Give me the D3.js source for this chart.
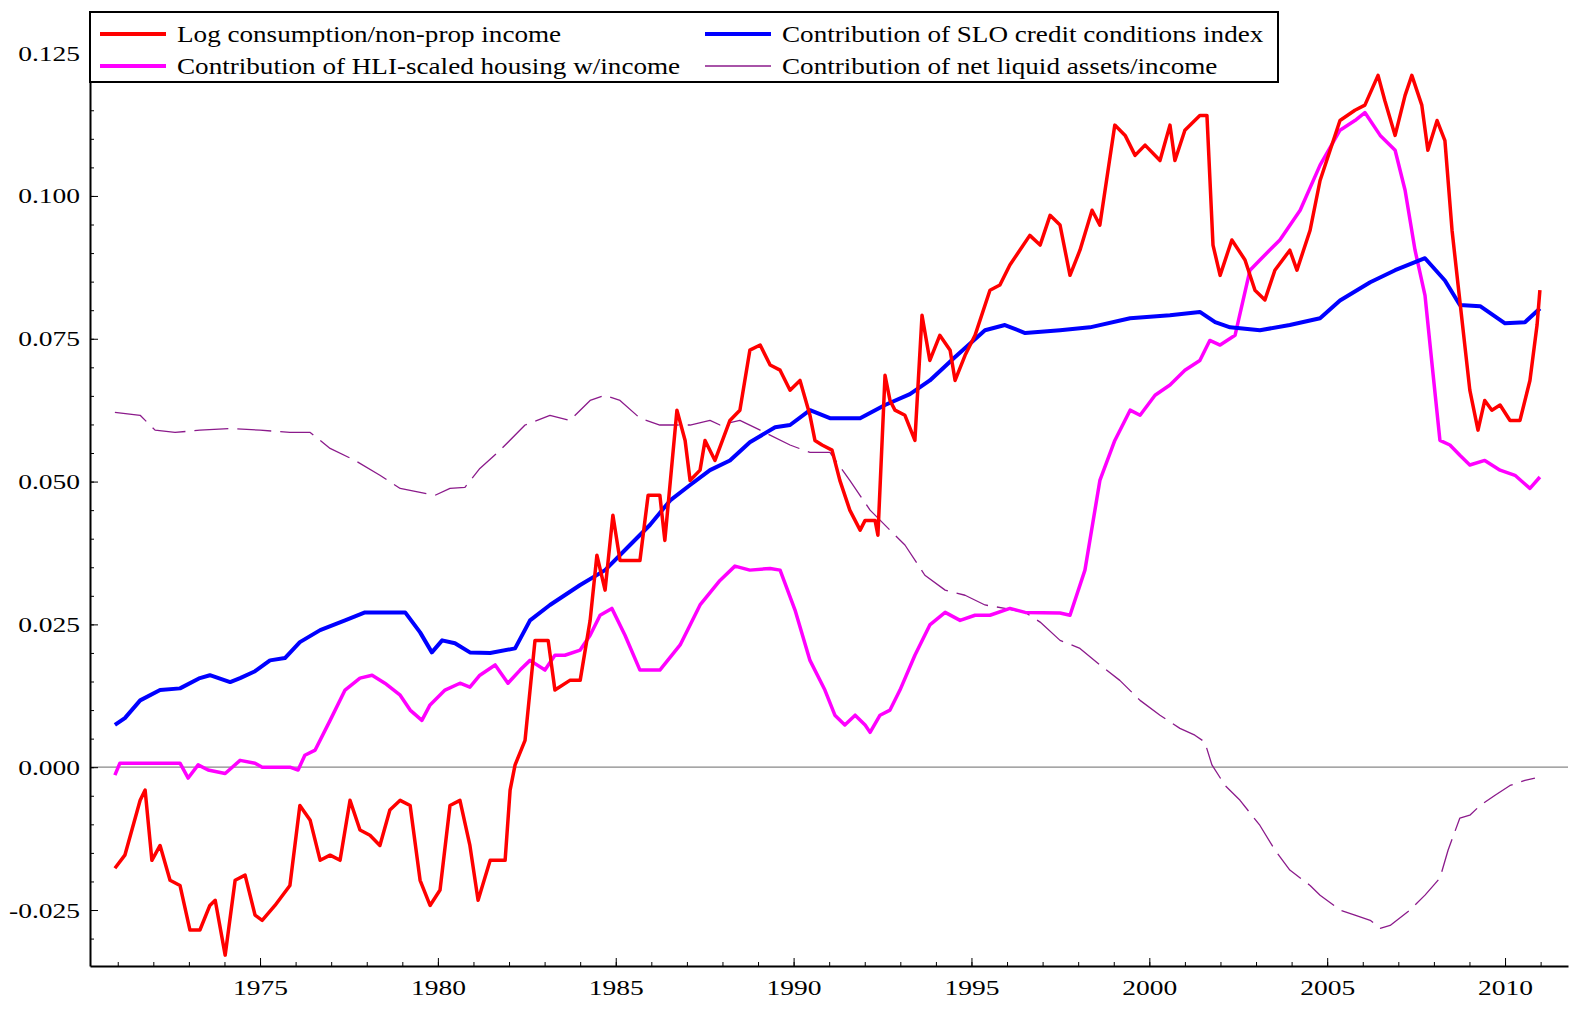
<!DOCTYPE html>
<html><head><meta charset="utf-8">
<script src="https://cdn.jsdelivr.net/npm/d3@7"></script>
<style>body{margin:0;background:#fff}text{font-family:"Liberation Serif",serif}</style>
</head><body><svg id="c" width="1586" height="1012"></svg>
<script>
const consumption = [[1970.92,-0.0177],[1971.20,-0.0154],[1971.63,-0.0058],[1971.77,-0.0040],[1971.96,-0.0163],[1972.19,-0.0137],[1972.47,-0.0198],[1972.75,-0.0207],[1973.03,-0.0285],[1973.31,-0.0285],[1973.59,-0.0242],[1973.74,-0.0233],[1974.02,-0.0329],[1974.30,-0.0198],[1974.58,-0.0189],[1974.86,-0.0259],[1975.06,-0.0268],[1975.42,-0.0242],[1975.84,-0.0207],[1976.12,-0.0067],[1976.41,-0.0093],[1976.69,-0.0163],[1976.97,-0.0154],[1977.25,-0.0163],[1977.53,-0.0058],[1977.81,-0.0110],[1978.09,-0.0119],[1978.37,-0.0137],[1978.65,-0.0075],[1978.94,-0.0058],[1979.22,-0.0067],[1979.50,-0.0198],[1979.78,-0.0242],[1980.06,-0.0215],[1980.34,-0.0067],[1980.62,-0.0058],[1980.90,-0.0137],[1981.13,-0.0233],[1981.47,-0.0163],[1981.89,-0.0163],[1982.03,-0.0040],[1982.17,0.0004],[1982.45,0.0047],[1982.73,0.0222],[1983.10,0.0222],[1983.29,0.0135],[1983.71,0.0152],[1984.00,0.0152],[1984.28,0.0257],[1984.47,0.0371],[1984.70,0.0310],[1984.92,0.0441],[1985.12,0.0362],[1985.68,0.0362],[1985.91,0.0476],[1986.24,0.0476],[1986.38,0.0397],[1986.72,0.0625],[1986.95,0.0572],[1987.09,0.0502],[1987.37,0.0520],[1987.51,0.0572],[1987.79,0.0537],[1988.21,0.0607],[1988.49,0.0625],[1988.77,0.0730],[1989.06,0.0739],[1989.34,0.0704],[1989.62,0.0695],[1989.90,0.0660],[1990.18,0.0677],[1990.46,0.0616],[1990.60,0.0572],[1990.80,0.0564],[1991.08,0.0555],[1991.30,0.0502],[1991.58,0.0450],[1991.87,0.0415],[1992.01,0.0432],[1992.29,0.0432],[1992.37,0.0406],[1992.57,0.0686],[1992.71,0.0642],[1992.85,0.0625],[1993.13,0.0616],[1993.41,0.0572],[1993.61,0.0791],[1993.83,0.0712],[1994.11,0.0756],[1994.40,0.0730],[1994.54,0.0677],[1994.82,0.0721],[1995.10,0.0756],[1995.52,0.0835],[1995.80,0.0844],[1996.08,0.0879],[1996.64,0.0931],[1996.93,0.0914],[1997.21,0.0966],[1997.49,0.0949],[1997.77,0.0861],[1998.05,0.0905],[1998.39,0.0975],[1998.61,0.0949],[1999.03,0.1124],[1999.32,0.1106],[1999.60,0.1071],[1999.88,0.1089],[2000.30,0.1062],[2000.58,0.1124],[2000.72,0.1062],[2001.00,0.1115],[2001.42,0.1141],[2001.62,0.1141],[2001.79,0.0914],[2001.99,0.0861],[2002.32,0.0923],[2002.69,0.0888],[2002.97,0.0835],[2003.25,0.0818],[2003.53,0.0870],[2003.95,0.0905],[2004.15,0.0870],[2004.52,0.0940],[2004.80,0.1027],[2005.36,0.1132],[2005.78,0.1150],[2006.06,0.1159],[2006.43,0.1211],[2006.62,0.1167],[2006.91,0.1106],[2007.19,0.1176],[2007.38,0.1211],[2007.66,0.1159],[2007.83,0.1080],[2008.09,0.1132],[2008.31,0.1097],[2008.51,0.0940],[2008.68,0.0844],[2009.01,0.0660],[2009.24,0.0590],[2009.43,0.0642],[2009.63,0.0625],[2009.86,0.0634],[2010.14,0.0607],[2010.42,0.0607],[2010.70,0.0677],[2010.90,0.0774],[2010.98,0.0835]];
const housing = [[1970.92,-0.0014],[1971.06,0.0007],[1971.34,0.0007],[1972.75,0.0007],[1972.98,-0.0019],[1973.26,0.0004],[1973.54,-0.0005],[1974.02,-0.0011],[1974.44,0.0012],[1974.86,0.0007],[1975.06,0],[1975.84,0],[1976.07,-0.0005],[1976.26,0.0021],[1976.55,0.0030],[1976.97,0.0082],[1977.39,0.0135],[1977.81,0.0156],[1978.15,0.0161],[1978.51,0.0147],[1978.94,0.0126],[1979.22,0.0100],[1979.55,0.0082],[1979.78,0.0109],[1980.20,0.0135],[1980.62,0.0147],[1980.90,0.0140],[1981.18,0.0161],[1981.61,0.0179],[1981.97,0.0147],[1982.31,0.0170],[1982.59,0.0187],[1983.01,0.0170],[1983.29,0.0196],[1983.57,0.0196],[1984.00,0.0205],[1984.28,0.0231],[1984.56,0.0266],[1984.89,0.0278],[1985.26,0.0231],[1985.68,0.0170],[1986.24,0.0170],[1986.81,0.0214],[1987.37,0.0284],[1987.93,0.0327],[1988.35,0.0352],[1988.77,0.0345],[1989.34,0.0348],[1989.62,0.0345],[1990.04,0.0275],[1990.46,0.0187],[1990.88,0.0135],[1991.16,0.0091],[1991.44,0.0074],[1991.73,0.0091],[1992.01,0.0074],[1992.15,0.0061],[1992.43,0.0091],[1992.71,0.0100],[1992.99,0.0135],[1993.41,0.0196],[1993.83,0.0249],[1994.26,0.0271],[1994.68,0.0257],[1995.10,0.0266],[1995.52,0.0266],[1996.08,0.0278],[1996.51,0.0271],[1997.49,0.0270],[1997.77,0.0266],[1998.19,0.0345],[1998.61,0.0502],[1999.03,0.0572],[1999.46,0.0625],[1999.74,0.0616],[2000.16,0.0651],[2000.58,0.0669],[2001.00,0.0695],[2001.42,0.0712],[2001.70,0.0747],[2001.99,0.0739],[2002.41,0.0756],[2002.83,0.0870],[2003.11,0.0888],[2003.67,0.0923],[2004.24,0.0975],[2004.80,0.1054],[2005.36,0.1115],[2005.78,0.1132],[2006.06,0.1146],[2006.49,0.1106],[2006.91,0.1080],[2007.19,0.1010],[2007.47,0.0905],[2007.75,0.0826],[2007.95,0.0704],[2008.17,0.0572],[2008.45,0.0564],[2008.73,0.0546],[2009.01,0.0529],[2009.43,0.0537],[2009.86,0.0520],[2010.28,0.0511],[2010.70,0.0488],[2010.98,0.0508]];
const credit = [[1970.92,0.0074],[1971.20,0.0086],[1971.63,0.0117],[1972.19,0.0135],[1972.75,0.0138],[1973.31,0.0156],[1973.59,0.0161],[1974.16,0.0149],[1974.44,0.0156],[1974.86,0.0168],[1975.28,0.0187],[1975.70,0.0191],[1976.12,0.0219],[1976.69,0.0240],[1977.39,0.0257],[1977.95,0.0271],[1979.08,0.0271],[1979.50,0.0236],[1979.83,0.0201],[1980.12,0.0222],[1980.48,0.0217],[1980.90,0.0201],[1981.47,0.0200],[1982.17,0.0208],[1982.59,0.0257],[1983.15,0.0284],[1984.00,0.0319],[1984.70,0.0345],[1985.40,0.0389],[1985.96,0.0424],[1986.53,0.0467],[1987.09,0.0494],[1987.65,0.0520],[1988.21,0.0537],[1988.77,0.0569],[1989.48,0.0595],[1989.90,0.0599],[1990.46,0.0625],[1991.02,0.0611],[1991.87,0.0611],[1992.57,0.0634],[1993.27,0.0653],[1993.83,0.0677],[1994.54,0.0718],[1995.38,0.0765],[1995.94,0.0774],[1996.51,0.0760],[1997.49,0.0765],[1998.33,0.0770],[1999.46,0.0786],[2000.58,0.0791],[2001.42,0.0797],[2001.85,0.0779],[2002.27,0.0770],[2003.11,0.0765],[2003.95,0.0774],[2004.80,0.0786],[2005.36,0.0817],[2006.21,0.0849],[2006.91,0.0870],[2007.75,0.0891],[2008.31,0.0852],[2008.73,0.0809],[2009.30,0.0807],[2010.00,0.0777],[2010.56,0.0779],[2010.98,0.0803]];
const liquid = [[1970.92,0.0621],[1971.63,0.0616],[1972.05,0.0590],[1972.61,0.0586],[1973.31,0.0590],[1974.16,0.0593],[1975.00,0.0590],[1975.84,0.0586],[1976.41,0.0586],[1976.97,0.0558],[1977.67,0.0537],[1978.37,0.0511],[1978.94,0.0488],[1979.50,0.0481],[1979.92,0.0476],[1980.34,0.0488],[1980.76,0.0490],[1981.18,0.0523],[1981.75,0.0555],[1982.45,0.0599],[1983.15,0.0616],[1983.71,0.0607],[1984.28,0.0642],[1984.70,0.0651],[1985.12,0.0642],[1985.68,0.0611],[1986.24,0.0599],[1987.09,0.0599],[1987.65,0.0607],[1987.93,0.0599],[1988.49,0.0607],[1989.06,0.0590],[1989.90,0.0564],[1990.46,0.0551],[1991.02,0.0551],[1991.58,0.0502],[1992.15,0.0450],[1992.71,0.0415],[1993.13,0.0389],[1993.69,0.0336],[1994.26,0.0310],[1994.82,0.0301],[1995.38,0.0284],[1995.94,0.0278],[1996.51,0.0271],[1996.93,0.0254],[1997.49,0.0222],[1998.05,0.0208],[1998.61,0.0179],[1999.17,0.0152],[1999.74,0.0117],[2000.30,0.0091],[2000.86,0.0068],[2001.28,0.0056],[2001.56,0.0044],[2001.76,0.0004],[2002.13,-0.0032],[2002.55,-0.0058],[2003.11,-0.0102],[2003.53,-0.0145],[2003.95,-0.0180],[2004.52,-0.0207],[2004.80,-0.0224],[2005.36,-0.0250],[2005.78,-0.0259],[2006.21,-0.0268],[2006.49,-0.0282],[2006.77,-0.0277],[2007.33,-0.0250],[2007.75,-0.0224],[2008.17,-0.0194],[2008.40,-0.0145],[2008.73,-0.0089],[2009.01,-0.0084],[2009.30,-0.0067],[2009.72,-0.0049],[2010.14,-0.0032],[2010.56,-0.0023],[2010.84,-0.0019]];
const yTicks = [-0.025, 0, 0.025, 0.05, 0.075, 0.1, 0.125];
const xTicks = [1975, 1980, 1985, 1990, 1995, 2000, 2005, 2010];
const legendNames = ["Log consumption/non-prop income", "Contribution of SLO credit conditions index",
  "Contribution of HLI-scaled housing w/income", "Contribution of net liquid assets/income"];

const svg = d3.select("#c");
const mL = 90, mR = 1568, mT = 12, mB = 966;
const x = d3.scaleLinear().domain([1970.22, 2011.77]).range([mL, mR]);
const y = d3.scaleLinear().domain([-0.0348, 0.1322]).range([mB, mT]);

// widen text to mimic the wide serif of the original
function stretch(sel, k) {
  sel.each(function () {
    const w = this.getComputedTextLength();
    d3.select(this).attr("textLength", w * k).attr("lengthAdjust", "spacingAndGlyphs");
  });
}

// zero line
svg.append("line").attr("x1", mL).attr("x2", mR).attr("y1", y(0)).attr("y2", y(0))
  .attr("stroke", "#888").attr("stroke-width", 1.2);

const yAxis = svg.append("g").attr("transform", `translate(${mL},0)`)
  .call(d3.axisLeft(y).tickValues(yTicks).tickFormat(d => d.toFixed(3)).tickSize(8).tickSizeOuter(0));
svg.append("g").attr("transform", `translate(${mL},0)`)
  .call(d3.axisRight(y).tickValues(d3.range(-0.03, 0.131, 0.005)).tickFormat("").tickSize(4).tickSizeOuter(0))
  .select(".domain").remove();
const xAxis = svg.append("g").attr("transform", `translate(0,${mB})`)
  .call(d3.axisBottom(x).tickValues(xTicks).tickFormat(d3.format("d")).tickSize(-8).tickSizeOuter(0));
svg.append("g").attr("transform", `translate(0,${mB})`)
  .call(d3.axisTop(x).tickValues(d3.range(1971, 2012)).tickFormat("").tickSize(4).tickSizeOuter(0))
  .select(".domain").remove();
svg.selectAll(".tick text").attr("font-size", 22).attr("font-family", "Liberation Serif").attr("fill", "#000");
yAxis.selectAll(".tick line").attr("x2", 8);
yAxis.selectAll(".tick text").attr("x", -10);
xAxis.selectAll(".tick text").attr("dy", "1.2em");
stretch(svg.selectAll(".tick text"), 1.25);
svg.selectAll(".domain").attr("stroke-width", 2);

const line = d3.line().x(d => x(d[0])).y(d => y(d[1]));
const series = [
  {data: liquid, color: "#8b1a8b", w: 1.3, dash: "34,9"},
  {data: housing, color: "#ff00ff", w: 3.5},
  {data: credit, color: "#0000ff", w: 4},
  {data: consumption, color: "#ff0000", w: 3.5}
];
series.forEach(s => svg.append("path").attr("d", line(s.data)).attr("fill", "none")
  .attr("stroke", s.color).attr("stroke-width", s.w).attr("stroke-dasharray", s.dash || null)
  .attr("stroke-linejoin", "round"));

// legend
const lg = svg.append("g");
lg.append("rect").attr("x", 90).attr("y", 12).attr("width", 1188).attr("height", 70)
  .attr("fill", "#fff").attr("stroke", "#000").attr("stroke-width", 2);
const legColors = [["#ff0000", 4], ["#0000ff", 4], ["#ff00ff", 4], ["#8b1a8b", 1.5]];
legendNames.forEach((n, i) => {
  const lx = (i % 2) ? 705 : 100, ly = 34 + Math.floor(i / 2) * 32;
  lg.append("line").attr("x1", lx).attr("x2", lx + 66).attr("y1", ly).attr("y2", ly)
    .attr("stroke", legColors[i][0]).attr("stroke-width", legColors[i][1]);
  lg.append("text").attr("x", lx + 77).attr("y", ly + 8).attr("font-size", 24).text(n);
});
stretch(lg.selectAll("text"), 1.13);
</script></body></html>
